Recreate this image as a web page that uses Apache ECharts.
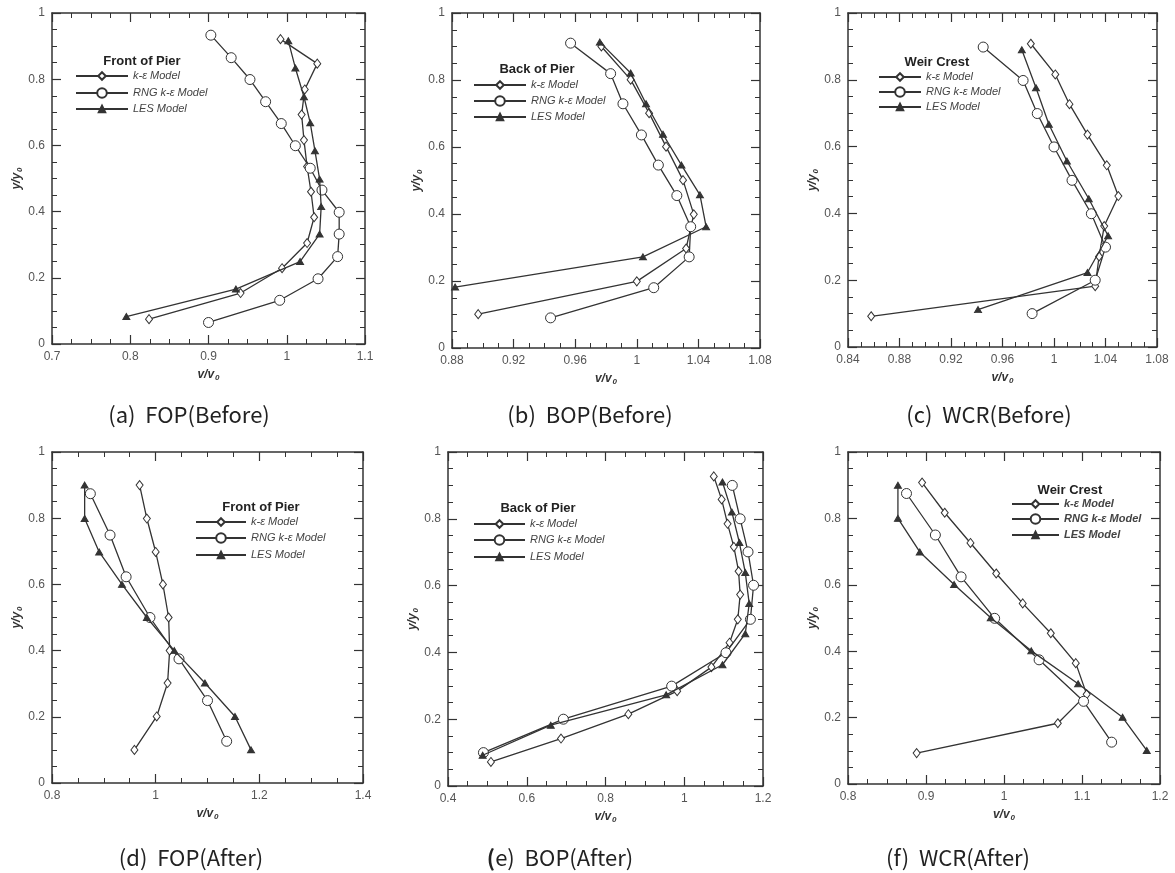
<!DOCTYPE html>
<html><head><meta charset="utf-8">
<script src="https://cdn.jsdelivr.net/npm/echarts@6/dist/echarts.min.js"></script>
<style>html,body{margin:0;padding:0;background:#fff}#c{width:1175px;height:873px}</style>
</head><body><div id="c"></div>
<script>
const seriesNames = ['k-\u03b5 Model', 'RNG k-\u03b5 Model', 'LES Model'];
const yTicks = [0, 0.2, 0.4, 0.6, 0.8, 1];

// (a) Front of Pier, before
const fopBeforeKE = [[0.992,0.921],[1.039,0.847],[1.023,0.769],[1.019,0.693],[1.022,0.616],[1.026,0.536],[1.031,0.460],[1.035,0.383],[1.026,0.305],[0.994,0.229],[0.941,0.154],[0.824,0.075]];
const fopBeforeRNG = [[0.903,0.933],[0.929,0.865],[0.953,0.799],[0.973,0.732],[0.993,0.666],[1.011,0.599],[1.030,0.531],[1.045,0.465],[1.067,0.398],[1.067,0.332],[1.065,0.264],[1.040,0.197],[0.991,0.132],[0.900,0.065]];
const fopBeforeLES = [[1.002,0.916],[1.011,0.834],[1.022,0.747],[1.030,0.668],[1.036,0.584],[1.042,0.498],[1.044,0.415],[1.042,0.332],[1.017,0.249],[0.935,0.166],[0.795,0.083]];
// (b) Back of Pier, before
const bopBeforeKE = [[0.977,0.900],[0.996,0.801],[1.008,0.701],[1.019,0.601],[1.030,0.501],[1.037,0.399],[1.032,0.297],[1.000,0.199],[0.897,0.101]];
const bopBeforeRNG = [[0.957,0.910],[0.983,0.819],[0.991,0.729],[1.003,0.636],[1.014,0.546],[1.026,0.455],[1.035,0.362],[1.034,0.272],[1.011,0.180],[0.944,0.090]];
const bopBeforeLES = [[0.976,0.913],[0.996,0.821],[1.006,0.729],[1.017,0.638],[1.029,0.546],[1.041,0.457],[1.045,0.362],[1.004,0.272],[0.882,0.182]];
// (c) Weir Crest, before
const wcrBeforeKE = [[0.982,0.908],[1.001,0.816],[1.012,0.727],[1.026,0.636],[1.041,0.544],[1.050,0.452],[1.039,0.362],[1.035,0.271],[1.032,0.182],[0.858,0.092]];
const wcrBeforeRNG = [[0.945,0.898],[0.976,0.798],[0.987,0.699],[1.000,0.599],[1.014,0.499],[1.029,0.399],[1.040,0.299],[1.032,0.200],[0.983,0.100]];
const wcrBeforeLES = [[0.975,0.890],[0.986,0.776],[0.996,0.667],[1.010,0.557],[1.027,0.444],[1.042,0.333],[1.026,0.223],[0.941,0.112]];
// (d) Front of Pier, after
const fopAfterKE = [[0.969,0.900],[0.983,0.799],[1.000,0.698],[1.014,0.600],[1.025,0.500],[1.027,0.400],[1.023,0.302],[1.002,0.201],[0.959,0.100]];
const fopAfterRNG = [[0.874,0.874],[0.912,0.749],[0.943,0.623],[0.989,0.500],[1.045,0.375],[1.100,0.249],[1.137,0.126]];
const fopAfterLES = [[0.863,0.900],[0.863,0.799],[0.891,0.698],[0.935,0.600],[0.983,0.500],[1.036,0.400],[1.095,0.302],[1.153,0.201],[1.184,0.100]];
// (e) Back of Pier, after
const bopAfterKE = [[1.075,0.927],[1.095,0.858],[1.110,0.785],[1.126,0.716],[1.138,0.643],[1.142,0.573],[1.136,0.499],[1.115,0.429],[1.069,0.356],[0.982,0.284],[0.858,0.215],[0.687,0.142],[0.509,0.072]];
const bopAfterRNG = [[1.122,0.900],[1.142,0.800],[1.162,0.701],[1.176,0.601],[1.168,0.499],[1.106,0.399],[0.968,0.299],[0.693,0.200],[0.490,0.100]];
const bopAfterLES = [[1.097,0.910],[1.121,0.820],[1.140,0.729],[1.155,0.639],[1.165,0.546],[1.155,0.456],[1.097,0.363],[0.954,0.273],[0.661,0.182],[0.488,0.092]];
// (f) Weir Crest, after
const wcrAfterKE = [[0.895,0.908],[0.924,0.817],[0.957,0.726],[0.990,0.634],[1.024,0.544],[1.060,0.454],[1.092,0.364],[1.106,0.270],[1.069,0.183],[0.888,0.093]];
const wcrAfterRNG = [[0.875,0.875],[0.912,0.750],[0.945,0.624],[0.988,0.499],[1.045,0.374],[1.102,0.249],[1.138,0.126]];
const wcrAfterLES = [[0.864,0.900],[0.864,0.800],[0.892,0.699],[0.936,0.601],[0.983,0.501],[1.035,0.401],[1.095,0.302],[1.152,0.201],[1.183,0.101]];

// x-axis ranges [min, max, interval]
const xRangeA = [0.7, 1.1, 0.1];
const xRangeB = [0.88, 1.08, 0.04];
const xRangeC = [0.84, 1.08, 0.04];
const xRangeD = [0.8, 1.4, 0.2];
const xRangeE = [0.4, 1.2, 0.2];
const xRangeF = [0.8, 1.2, 0.1];

const legendTitles = ['Front of Pier', 'Back of Pier', 'Weir Crest', 'Front of Pier', 'Back of Pier', 'Weir Crest'];
const captions = ['(a)  FOP(Before)', '(b)  BOP(Before)', '(c)  WCR(Before)', '(d)  FOP(After)', '{p|(}e)  BOP(After)', '(f)  WCR(After)'];

// layout (positions / styles)
const panels = [
  {data:[fopBeforeKE,fopBeforeRNG,fopBeforeLES], x:xRangeA, grid:{left:52,top:13,width:313,height:331}, tPos:[142,61], lx:75, rows:[76,93,109], lw:52, cap:[189,415]},
  {data:[bopBeforeKE,bopBeforeRNG,bopBeforeLES], x:xRangeB, grid:{left:452,top:13,width:308,height:335}, tPos:[537,69], lx:473, rows:[85,101,117], lw:52, cap:[590,415]},
  {data:[wcrBeforeKE,wcrBeforeRNG,wcrBeforeLES], x:xRangeC, grid:{left:848,top:13,width:309,height:334}, tPos:[937,62], lx:878, rows:[77,92,107], lw:42, cap:[989,415]},
  {data:[fopAfterKE,fopAfterRNG,fopAfterLES], x:xRangeD, grid:{left:52,top:452,width:311,height:331}, tPos:[261,507], lx:195, rows:[522,538,555], lw:50, cap:[191,858]},
  {data:[bopAfterKE,bopAfterRNG,bopAfterLES], x:xRangeE, grid:{left:448,top:452,width:315,height:334}, tPos:[538,508], lx:473, rows:[524,540,557], lw:51, cap:[560,858]},
  {data:[wcrAfterKE,wcrAfterRNG,wcrAfterLES], x:xRangeF, grid:{left:848,top:452,width:312,height:332}, tPos:[1070,490], lx:1011, rows:[504,519,535], lw:47, cap:[958,858], boldLegend:true}
];

const INK = '#333';
const markerStyles = [
  {symbol:'diamond', symbolSize:[7,9], itemStyle:{color:'#fff', borderColor:INK, borderWidth:1}},
  {symbol:'circle', symbolSize:10, itemStyle:{color:'#fff', borderColor:INK, borderWidth:1}},
  {symbol:'triangle', symbolSize:[7,6], itemStyle:{color:INK, borderColor:INK, borderWidth:1}}
];
const legendIH = [9.5, 12, 8];

const nameRich = {
  a:{fontSize:12, fontWeight:'bold', fontStyle:'italic', color:INK, fontFamily:'Liberation Sans', lineHeight:14},
  b:{fontSize:8, fontWeight:'bold', fontStyle:'italic', color:INK, fontFamily:'Liberation Sans', verticalAlign:'bottom', lineHeight:14, padding:[0,0,0,1]}
};

function axisCommon(min, max, interval, showLabel) {
  return {
    type:'value', min:min, max:max, interval:interval,
    axisLine:{show:true, onZero:false, lineStyle:{color:INK, width:1.5}},
    axisTick:{show:true, inside:true, length:9, lineStyle:{color:INK, width:1.2}},
    minorTick:{show:true, splitNumber:4, length:5, lineStyle:{color:INK, width:1}},
    splitLine:{show:false}, minorSplitLine:{show:false},
    axisLabel:{show:showLabel, fontSize:12, color:'#555', fontFamily:'Liberation Sans', margin:7}
  };
}

const grid = [], xAxis = [], yAxis = [], series = [], legend = [], title = [];
panels.forEach((p, i) => {
  grid.push(Object.assign({containLabel:false}, p.grid));
  xAxis.push(Object.assign(axisCommon(p.x[0], p.x[1], p.x[2], true), {
    gridIndex:i, position:'bottom', name:'{a|v/v}{b|0}', nameLocation:'middle', nameGap:24,
    nameTextStyle:{rich:nameRich}
  }));
  xAxis.push(Object.assign(axisCommon(p.x[0], p.x[1], p.x[2], false), {gridIndex:i, position:'top'}));
  yAxis.push(Object.assign(axisCommon(0, 1, 0.2, true), {
    gridIndex:i, position:'left', name:'{a|y/y}{b|0}', nameLocation:'middle', nameGap:28, nameRotate:90,
    nameTextStyle:{rich:nameRich}
  }));
  yAxis.push(Object.assign(axisCommon(0, 1, 0.2, false), {gridIndex:i, position:'right'}));
  p.data.forEach((d, j) => {
    series.push(Object.assign({
      type:'line', name:seriesNames[j], xAxisIndex:2*i, yAxisIndex:2*i,
      data:d, showSymbol:true, showAllSymbol:true, z:3+j,
      lineStyle:{color:INK, width:1.3}, color:INK
    }, markerStyles[j]));
    legend.push({
      data:[seriesNames[j]], orient:'vertical', left:p.lx, top:p.rows[j]-7,
      itemWidth:p.lw, itemHeight:legendIH[j], itemGap:0, padding:0, selectedMode:false,
      textStyle:{fontSize:11, fontStyle:'italic', fontWeight:p.boldLegend?'bold':'normal', color:'#444', fontFamily:'Liberation Sans', lineHeight:14}
    });
  });
  title.push({
    text:legendTitles[i], left:p.tPos[0], top:p.tPos[1], textAlign:'center', textVerticalAlign:'middle', padding:0,
    textStyle:{fontSize:13, fontWeight:'bold', color:'#222', fontFamily:'Liberation Sans'}
  });
  title.push({
    text:captions[i], left:p.cap[0], top:p.cap[1], textAlign:'center', textVerticalAlign:'middle', padding:0,
    textStyle:{fontSize:22, fontWeight:'normal', color:'#222', fontFamily:'Noto Sans CJK KR',
      rich:{p:{fontSize:22, fontWeight:'bold', color:'#222', fontFamily:'Noto Sans CJK KR'}}}
  });
});

const chart = echarts.init(document.getElementById('c'), null, {renderer:'canvas'});
chart.setOption({
  animation:false, backgroundColor:'#fff',
  grid, xAxis, yAxis, series, legend, title,
  tooltip:{show:false}
});
</script></body></html>
